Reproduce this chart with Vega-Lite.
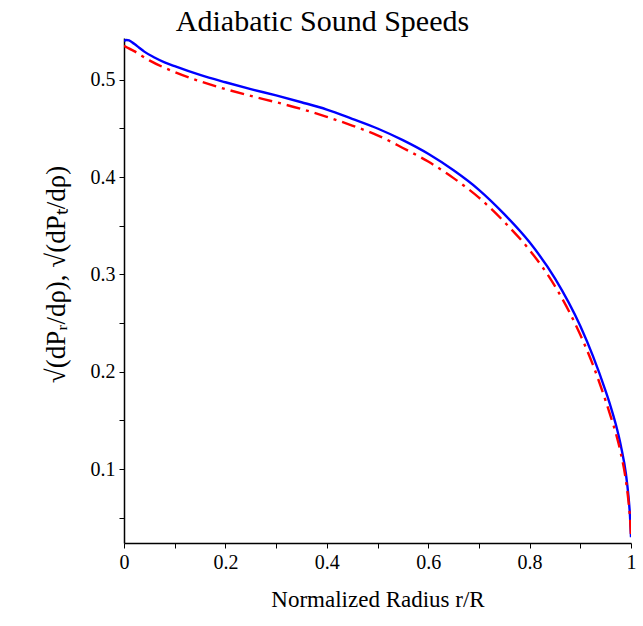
{
  "$schema": "https://vega.github.io/schema/vega-lite/v6.json",
  "width": 507,
  "height": 505,
  "autosize": {"type": "none"},
  "padding": {"left": 124, "top": 38, "right": 12, "bottom": 83},
  "background": "white",
  "config": {"view": {"stroke": null}, "font": "Liberation Serif"},
  "title": {"text": "Adiabatic Sound Speeds", "font": "Liberation Serif", "fontSize": 30, "fontWeight": "normal", "color": "black", "anchor": "middle", "dx": -55, "dy": 29, "baseline": "alphabetic", "offset": 6},
  "data": {"values": [
    {"x": 0, "y": 0.540, "s": "t"},
    {"x": 0.005, "y": 0.541, "s": "t"},
    {"x": 0.01, "y": 0.5405, "s": "t"},
    {"x": 0.02, "y": 0.537, "s": "t"},
    {"x": 0.03, "y": 0.533, "s": "t"},
    {"x": 0.04, "y": 0.529, "s": "t"},
    {"x": 0.06, "y": 0.523, "s": "t"},
    {"x": 0.08, "y": 0.518, "s": "t"},
    {"x": 0.1, "y": 0.514, "s": "t"},
    {"x": 0.15, "y": 0.505, "s": "t"},
    {"x": 0.2, "y": 0.4975, "s": "t"},
    {"x": 0.25, "y": 0.4905, "s": "t"},
    {"x": 0.3, "y": 0.484, "s": "t"},
    {"x": 0.35, "y": 0.477, "s": "t"},
    {"x": 0.4, "y": 0.4695, "s": "t"},
    {"x": 0.45, "y": 0.460, "s": "t"},
    {"x": 0.5, "y": 0.450, "s": "t"},
    {"x": 0.55, "y": 0.438, "s": "t"},
    {"x": 0.6, "y": 0.424, "s": "t"},
    {"x": 0.65, "y": 0.407, "s": "t"},
    {"x": 0.7, "y": 0.387, "s": "t"},
    {"x": 0.75, "y": 0.362, "s": "t"},
    {"x": 0.8, "y": 0.333, "s": "t"},
    {"x": 0.85, "y": 0.296, "s": "t"},
    {"x": 0.9, "y": 0.247, "s": "t"},
    {"x": 0.925, "y": 0.216, "s": "t"},
    {"x": 0.95, "y": 0.180, "s": "t"},
    {"x": 0.96, "y": 0.164, "s": "t"},
    {"x": 0.97, "y": 0.146, "s": "t"},
    {"x": 0.98, "y": 0.124, "s": "t"},
    {"x": 0.99, "y": 0.095, "s": "t"},
    {"x": 0.995, "y": 0.072, "s": "t"},
    {"x": 0.998, "y": 0.052, "s": "t"},
    {"x": 1.0, "y": 0.030, "s": "t"},
    {"x": 0, "y": 0.535, "s": "r"},
    {"x": 0.02, "y": 0.5295, "s": "r"},
    {"x": 0.05, "y": 0.520, "s": "r"},
    {"x": 0.1, "y": 0.508, "s": "r"},
    {"x": 0.15, "y": 0.4985, "s": "r"},
    {"x": 0.2, "y": 0.4905, "s": "r"},
    {"x": 0.25, "y": 0.4835, "s": "r"},
    {"x": 0.3, "y": 0.477, "s": "r"},
    {"x": 0.35, "y": 0.470, "s": "r"},
    {"x": 0.4, "y": 0.462, "s": "r"},
    {"x": 0.45, "y": 0.453, "s": "r"},
    {"x": 0.5, "y": 0.443, "s": "r"},
    {"x": 0.55, "y": 0.430, "s": "r"},
    {"x": 0.6, "y": 0.416, "s": "r"},
    {"x": 0.65, "y": 0.399, "s": "r"},
    {"x": 0.7, "y": 0.379, "s": "r"},
    {"x": 0.75, "y": 0.354, "s": "r"},
    {"x": 0.8, "y": 0.325, "s": "r"},
    {"x": 0.85, "y": 0.288, "s": "r"},
    {"x": 0.9, "y": 0.238, "s": "r"},
    {"x": 0.925, "y": 0.207, "s": "r"},
    {"x": 0.95, "y": 0.170, "s": "r"},
    {"x": 0.96, "y": 0.154, "s": "r"},
    {"x": 0.97, "y": 0.137, "s": "r"},
    {"x": 0.98, "y": 0.116, "s": "r"},
    {"x": 0.99, "y": 0.088, "s": "r"},
    {"x": 0.995, "y": 0.067, "s": "r"},
    {"x": 0.998, "y": 0.050, "s": "r"},
    {"x": 1.0, "y": 0.031, "s": "r"}
  ]},
  "encoding": {
    "x": {"field": "x", "type": "quantitative",
      "scale": {"domain": [0, 1], "nice": false, "zero": false},
      "axis": {"values": [0, 0.1, 0.2, 0.3, 0.4, 0.5, 0.6, 0.7, 0.8, 0.9, 1],
        "labelExpr": "abs(datum.value*5 - round(datum.value*5)) < 0.001 ? format(datum.value, '~g') : ''",
        "grid": false, "domainColor": "black", "domainWidth": 1.5, "tickColor": "black", "tickWidth": 1, "tickSize": 5,
        "labelFont": "Liberation Serif", "labelFontSize": 20, "labelColor": "black", "labelPadding": 4, "labelFlush": false,
        "title": "Normalized Radius r/R", "titleFont": "Liberation Serif", "titleFontSize": 23, "titleFontWeight": "normal", "titleColor": "black", "titlePadding": 16}},
    "y": {"field": "y", "type": "quantitative",
      "scale": {"domain": [0.024, 0.543], "nice": false, "zero": false},
      "axis": {"values": [0.05, 0.1, 0.15, 0.2, 0.25, 0.3, 0.35, 0.4, 0.45, 0.5],
        "labelExpr": "abs(datum.value*10 - round(datum.value*10)) < 0.001 ? format(datum.value, '~g') : ''",
        "grid": false, "domainColor": "black", "domainWidth": 1.5, "tickColor": "black", "tickWidth": 1, "tickSize": 5,
        "labelFont": "Liberation Serif", "labelFontSize": 20, "labelColor": "black", "labelPadding": 4,
        "title": "√(dPᵣ/dρ), √(dPₜ/dρ)", "titleFont": "Liberation Serif", "titleFontSize": 27, "titleFontWeight": "normal", "titleColor": "black", "titlePadding": 20, "titleY": 236}}
  },
  "layer": [
    {"transform": [{"filter": "datum.s == 't'"}],
     "mark": {"type": "line", "color": "#0000FF", "strokeWidth": 2.4, "interpolate": "monotone", "clip": true}},
    {"transform": [{"filter": "datum.s == 'r'"}],
     "mark": {"type": "line", "color": "#FF0000", "strokeWidth": 2.4, "strokeDash": [14, 6, 3, 6], "interpolate": "monotone", "clip": true}}
  ]
}
